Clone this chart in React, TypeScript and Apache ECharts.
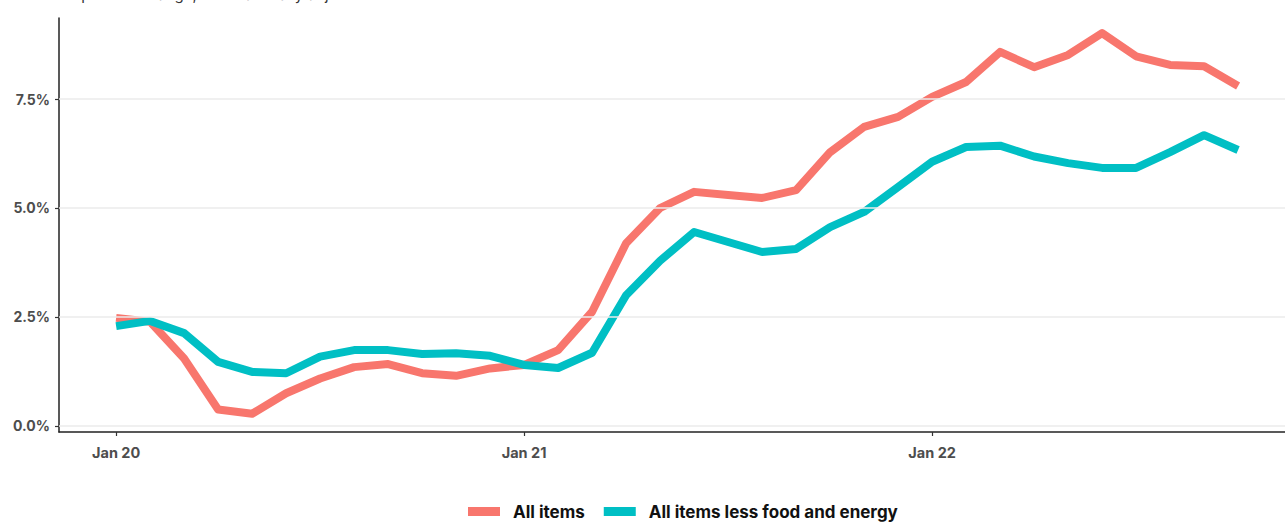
import React, { useEffect, useRef } from "react";
import * as echarts from "echarts";

const monthIndex: number[] = Array.from({ length: 34 }, (_, i) => i);
const allItems: number[] = [
  2.48, 2.39, 1.55, 0.38, 0.28, 0.75, 1.09, 1.35, 1.42, 1.21, 1.15, 1.32,
  1.4, 1.74, 2.62, 4.19, 5.0, 5.37, 5.3, 5.23, 5.41, 6.28, 6.86, 7.09,
  7.55, 7.89, 8.58, 8.23, 8.51, 9.01, 8.48, 8.28, 8.25, 7.8,
];
const coreItems: number[] = [
  2.29, 2.41, 2.13, 1.47, 1.24, 1.21, 1.59, 1.74, 1.74, 1.65, 1.67, 1.61,
  1.4, 1.33, 1.68, 3.0, 3.79, 4.45, 4.22, 3.99, 4.06, 4.56, 4.91, 5.48,
  6.06, 6.4, 6.43, 6.18, 6.03, 5.92, 5.92, 6.28, 6.67, 6.33,
];
const xTickValues: number[] = [0, 12, 24];
const xTickLabels: string[] = ["Jan 20", "Jan 21", "Jan 22"];
const yTickValues: number[] = [0, 2.5, 5, 7.5];
const seriesNames: string[] = ["All items", "All items less food and energy"];
const seriesColors: string[] = ["#F8766D", "#00BFC4"];
const subtitle = "12-month percent change, not seasonally adjusted";

export default function App() {
  const ref = useRef<HTMLDivElement>(null);
  useEffect(() => {
    if (!ref.current) return;
    const chart = echarts.init(ref.current, null, { renderer: "svg" });
    const font = "Inter, 'Noto Sans', sans-serif";
    chart.setOption({
      animation: false,
      backgroundColor: "#ffffff",
      textStyle: { fontFamily: font },
      graphic: [
        {
          type: "text",
          left: 10,
          top: -13,
          style: {
            text: subtitle,
            fontSize: 15,
            fontFamily: font,
            fill: "#333",
          },
        },
      ],
      legend: {
        data: seriesNames,
        left: 468,
        top: 503,
        padding: 0,
        icon: "rect",
        itemWidth: 32,
        itemHeight: 9,
        itemGap: 19,
        textStyle: {
          fontSize: 17,
          fontWeight: "bold",
          color: "#111",
          fontFamily: font,
          padding: [0, 0, 0, 8],
        },
      },
      grid: { left: 59, right: 0, top: 18, bottom: 90 },
      xAxis: {
        type: "value",
        min: -1.68,
        max: 34.38,
        axisLine: { show: true, onZero: false, lineStyle: { color: "#222", width: 1.5 } },
        axisTick: {
          show: true,
          customValues: xTickValues,
          length: 4,
          lineStyle: { color: "#333", width: 1.2 },
        },
        axisLabel: {
          customValues: xTickValues,
          formatter: (v: number) => xTickLabels[xTickValues.indexOf(v)] ?? "",
          color: "#4d4d4d",
          fontSize: 14.5,
          fontWeight: "bold",
          margin: 13,
          fontFamily: font,
        },
        splitLine: { show: false },
      },
      yAxis: {
        type: "value",
        min: -0.138,
        max: 9.358,
        axisLine: { show: true, onZero: false, lineStyle: { color: "#222", width: 1.5 } },
        axisTick: {
          show: true,
          customValues: yTickValues,
          length: 4,
          lineStyle: { color: "#333", width: 1.2 },
        },
        axisLabel: {
          customValues: yTickValues,
          formatter: (v: number) => v.toFixed(1) + "%",
          color: "#4d4d4d",
          fontSize: 14,
          fontWeight: "bold",
          margin: 9,
          fontFamily: font,
        },
        splitLine: { show: false },
      },
      series: [
        {
          type: "line",
          name: "__grid",
          data: [],
          z: 0,
          silent: true,
          markLine: {
            silent: true,
            symbol: "none",
            label: { show: false },
            lineStyle: { color: "#ebebeb", width: 1.5, type: "solid" },
            data: yTickValues.map((v) => ({ yAxis: v })),
          },
        },
        {
          type: "line",
          name: seriesNames[0],
          data: monthIndex.map((m, i) => [m, allItems[i]]),
          showSymbol: false,
          symbol: "none",
          color: seriesColors[0],
          lineStyle: { width: 8, color: seriesColors[0], join: "round", cap: "butt" },
          z: 2,
        },
        {
          type: "line",
          name: seriesNames[1],
          data: monthIndex.map((m, i) => [m, coreItems[i]]),
          showSymbol: false,
          symbol: "none",
          color: seriesColors[1],
          lineStyle: { width: 8, color: seriesColors[1], join: "round", cap: "butt" },
          z: 3,
        },
      ],
    });
    return () => chart.dispose();
  }, []);
  return (
    <div
      ref={ref}
      style={{ position: "fixed", left: 0, top: 0, width: 1285, height: 522 }}
    />
  );
}
